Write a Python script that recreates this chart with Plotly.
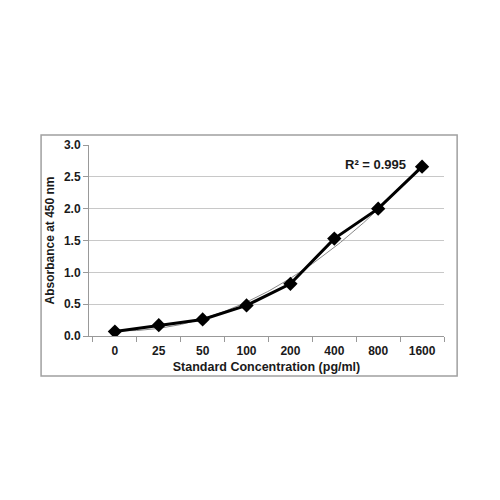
import numpy as np
import plotly.graph_objects as go

categories = ["0", "25", "50", "100", "200", "400", "800", "1600"]
absorbance = [0.07, 0.17, 0.26, 0.48, 0.82, 1.53, 2.0, 2.66]
r2_label = "R² = 0.995"

idx = np.arange(len(categories))
# Polynomial (2nd order) trendline fitted to the data, as Excel does (x = 1..n)
coef = np.polyfit(idx + 1, absorbance, 2)
xs = np.linspace(0, len(categories) - 1, 200)
ys = np.polyval(coef, xs + 1)

font_family = "Liberation Sans, Arial, sans-serif"
txt = "#1a1a1a"

fig = go.Figure()
fig.add_trace(go.Scatter(x=xs, y=ys, mode="lines",
                         line=dict(color="#888888", width=1), hoverinfo="skip",
                         showlegend=False))
fig.add_trace(go.Scatter(x=idx, y=absorbance, mode="lines+markers",
                         line=dict(color="black", width=3),
                         marker=dict(symbol="diamond", size=11, color="black"),
                         showlegend=False))

fig.update_layout(
    width=500, height=500,
    margin=dict(l=81, r=64, t=137, b=172),
    paper_bgcolor="white", plot_bgcolor="white",
    font=dict(family=font_family, size=12, color=txt),
    showlegend=False,
    xaxis=dict(
        range=[-0.59, 7.5], tickvals=list(idx), ticktext=categories,
        ticks="", showgrid=False, zeroline=False,
        showline=True, linecolor="#999999", linewidth=1,
        ticklabelstandoff=4,
        tickfont=dict(family=font_family, size=12, color=txt, weight="bold"),
        minor=dict(tick0=-0.5, dtick=1, ticks="outside", ticklen=5,
                   tickcolor="#999999", showgrid=False),
        title=dict(text="Standard Concentration (pg/ml)", standoff=4,
                   font=dict(family=font_family, size=12.5, color=txt, weight="bold")),
    ),
    yaxis=dict(
        range=[0, 3.0], tickvals=[0, 0.5, 1.0, 1.5, 2.0, 2.5, 3.0],
        tickformat=".1f", ticks="outside", ticklen=5, tickcolor="#999999",
        showgrid=True, gridcolor="#c8c8c8", gridwidth=1, zeroline=False,
        showline=True, linecolor="#999999", linewidth=1,
        tickfont=dict(family=font_family, size=12, color=txt, weight="bold"),
        title=dict(text="Absorbance at 450 nm", standoff=6,
                   font=dict(family=font_family, size=12, color=txt, weight="bold")),
    ),
    shapes=[dict(type="rect", xref="paper", yref="paper",
                 x0=-0.135, x1=1.037, y0=-0.209, y1=1.052,
                 line=dict(color="#a0a0a0", width=1.5), fillcolor="rgba(0,0,0,0)",
                 layer="below")],
    annotations=[dict(text=r2_label, xref="paper", yref="paper",
                      x=0.715, y=0.90, xanchor="left", yanchor="middle",
                      showarrow=False,
                      font=dict(family=font_family, size=13, color=txt, weight="bold"))],
)

fig.write_html("out.html")
